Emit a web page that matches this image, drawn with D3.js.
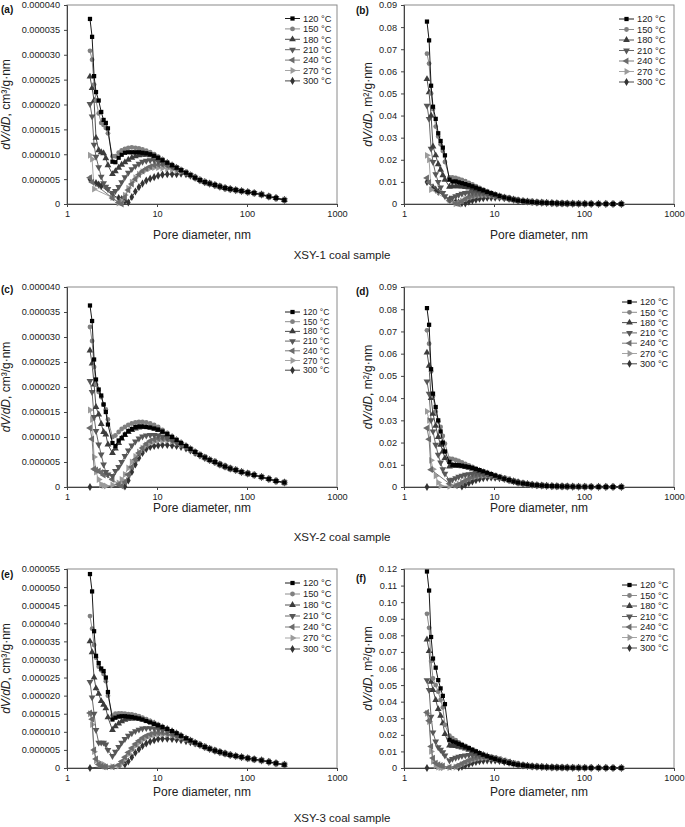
<!DOCTYPE html>
<html><head><meta charset="utf-8">
<script src="https://cdn.jsdelivr.net/npm/d3@7/dist/d3.min.js"></script>
<style>
body{margin:0;background:#fff}
text{font-family:"Liberation Sans",Arial,Helvetica,sans-serif}
</style>
</head><body>
<svg id="c" width="685" height="827"></svg>
<script>
// Pore diameter grid, nm
const diam = [1.8,1.9,2.0,2.1,2.25,2.4,2.55,2.7,2.85,3.2,3.45,3.75,4.05,4.4,4.8,5.25,5.75,6.3,6.9,7.6,8.4,9.3,10.3,11.5,13,14.7,16.5,18.5,21,23.5,26.5,30,34,38.5,44,50,57,65,75,87,102,120,145,175,210,260];
const seriesNames = ["120 °C","150 °C","180 °C","210 °C","240 °C","270 °C","300 °C"];
const xTicks = [1,10,100,1000];
const sampleLabels = ["XSY-1 coal sample","XSY-2 coal sample","XSY-3 coal sample"];
const n = null;

// (a) XSY-1 dV/dD, units of 1e-6 cm3/g·nm
const a120=[37.2,33.6,25.7,22.5,20.8,18.5,16.9,16.3,15.2, 8.5,8.4,9.3,9.9,10.3,10.4,10.4,10.4,10.4, 10.3,10.2,10.0,9.7,9.3,8.8,8.3,7.8, 7.3,6.8,6.3,5.8,5.3,4.8,4.4,4.1,3.8,3.5,3.2,3.0,2.8,2.6,2.4,2.2,1.9,1.5,1.2,0.8];
const a150=[30.8,29.0,24.0,20.8,18.2,16.3,15.9,15.3,14.2, 9.6,9.6,10.3,10.8,11.1,11.3,11.4,11.3,11.2, 11.0,10.7,10.4,10.0,9.5,9.0,8.4,7.9, 7.4,6.9,6.4,5.9,5.4,4.9,4.5,4.1,3.8,3.5,3.2,3.0,2.8,2.6,2.4,2.2,1.9,1.6,1.2,0.9];
const a180=[25.6,23.3,20.8,13.3,10.8,10.4,10.2,9.2,7.8, 6.0,6.6,7.3,7.9,8.4,8.9,9.3,9.6,9.8, 9.9,9.9,9.8,9.6,9.2,8.8,8.3,7.8, 7.3,6.8,6.3,5.8,5.3,4.8,4.4,4.1,3.8,3.5,3.2,3.0,2.8,2.6,2.4,2.2,1.9,1.5,1.2,0.8];
const a210=[20.1,17.6,11.9,9.5,7.4,5.5,4.2,3.5,3.0, 2.2,2.6,3.4,4.4,5.4,6.3,7.0,7.6,8.1, 8.5,8.7,8.8,8.8,8.6,8.3,8.0,7.6, 7.2,6.8,6.3,5.8,5.3,4.8,4.4,4.1,3.8,3.5,3.2,3.0,2.8,2.6,2.4,2.2,1.9,1.5,1.2,0.8];
const a240=[5.3,4.4,n,n,n,n,n,n,n, 1.2,n,0.3,0.0,1.4,2.8,4.0,5.0,5.9, 6.6,7.1,7.5,7.8,7.9,7.9,7.7,7.4, 7.1,6.7,6.3,5.8,5.3,4.8,4.4,4.1,3.8,3.5,3.2,3.0,2.8,2.6,2.4,2.2,1.9,1.5,1.2,0.8];
const a270=[9.8,9.0,3.0,n,n,n,n,n,n, 1.3,n,0.2,0.6,1.8,3.2,4.4,5.3,6.0, 6.5,6.9,7.2,7.3,7.3,7.2,7.1,6.9, 6.7,6.5,6.2,5.8,5.3,4.8,4.4,4.1,3.8,3.5,3.2,3.0,2.8,2.6,2.4,2.2,1.9,1.5,1.2,0.8];
const a300=[5.0,n,n,4.2,3.9,3.6,n,n,n, 1.8,n,1.2,1.0,0.6,0.3,1.4,2.5,3.4, 4.1,4.7,5.1,5.4,5.7,5.9,6.0,6.0, 6.0,6.1,6.0,5.7,5.3,4.8,4.4,4.1,3.8,3.5,3.2,3.0,2.8,2.6,2.4,2.2,1.9,1.5,1.2,0.8];

// (b) XSY-1 dS/dD, units of 1e-3 m2/g·nm
const b120=[82.5,74,53.5,44,38.5,32,28.5,25.5,22, 11,10.2,10.2,9.8,9.4,9.0,8.5,8.0,7.4, 6.8,6.2,5.5,4.9,4.3,3.6,3.0,2.5, 2.0,1.6,1.3,1.1,0.9,0.7,0.6,0.5,0.4,0.3,0.25,0.2,0.15,0.12,0.1,0.08,0.06,0.05,0.03,0.02];
const b150=[68,63.5,50,43,35,30.5,27,24,19, 12,12,11.8,11.4,10.9,10.3,9.6,8.9,8.1, 7.3,6.5,5.7,5.0,4.3,3.6,3.0,2.5, 2.0,1.6,1.3,1.1,0.9,0.7,0.6,0.5,0.4,0.3,0.25,0.2,0.15,0.12,0.1,0.08,0.06,0.05,0.03,0.02];
const b180=[56.5,50.5,40,26,22,18,15.5,13,11, 7.8,8.0,8.0,8.0,7.9,7.7,7.4,7.0,6.6, 6.2,5.7,5.2,4.6,4.1,3.5,3.0,2.5, 2.0,1.6,1.3,1.1,0.9,0.7,0.6,0.5,0.4,0.3,0.25,0.2,0.15,0.12,0.1,0.08,0.06,0.05,0.03,0.02];
const b210=[44.5,38.5,25,19,13.5,10,7.5,5,3.5, 2,2.8,3.5,4.1,4.6,5.0,5.2,5.3,5.3, 5.2,5.0,4.7,4.3,3.9,3.4,2.9,2.5, 2.0,1.6,1.3,1.1,0.9,0.7,0.6,0.5,0.4,0.3,0.25,0.2,0.15,0.12,0.1,0.08,0.06,0.05,0.03,0.02];
const b240=[11.8,9.8,n,n,n,n,n,n,n, 1.5,n,0.3,0.0,1.2,2.2,3.0,3.6,4.0, 4.2,4.3,4.3,4.1,3.8,3.4,2.9,2.5, 2.0,1.6,1.3,1.1,0.9,0.7,0.6,0.5,0.4,0.3,0.25,0.2,0.15,0.12,0.1,0.08,0.06,0.05,0.03,0.02];
const b270=[22,20,6.5,n,n,n,n,n,n, 1.5,n,0.1,0.6,1.4,2.2,2.9,3.4,3.7, 3.9,4.0,4.0,3.9,3.6,3.3,2.9,2.5, 2.0,1.6,1.3,1.1,0.9,0.7,0.6,0.5,0.4,0.3,0.25,0.2,0.15,0.12,0.1,0.08,0.06,0.05,0.03,0.02];
const b300=[10,n,n,7.5,6.5,5.5,n,n,n, 2,n,1.0,0.6,0.4,0.3,1.0,1.6,2.0, 2.4,2.6,2.8,2.9,2.9,2.8,2.6,2.4, 2.0,1.6,1.3,1.1,0.9,0.7,0.6,0.5,0.4,0.3,0.25,0.2,0.15,0.12,0.1,0.08,0.06,0.05,0.03,0.02];

// (c) XSY-2 dV/dD, units of 1e-6
const c120=[36.3,33.2,25.5,21.5,19.5,18.3,16.5,15.0,12.5, 8.8,8.2,9.3,9.8,10.5,11.2,11.6,12.0,12.1, 12.1,12.0,11.9,11.7,11.5,11.1,10.6,10.0, 9.4,8.8,8.2,7.6,7.0,6.4,5.9,5.4,5.0,4.5,4.1,3.7,3.4,3.0,2.7,2.4,2.0,1.6,1.2,0.9];
const c150=[32.0,29.2,24.0,20.5,19.0,18.0,16.5,15.5,13.5, 10.0,10.3,11.0,11.6,12.0,12.4,12.7,12.9,13.0, 13.0,12.9,12.7,12.4,12.0,11.4,10.8,10.1, 9.5,8.9,8.2,7.6,7.0,6.4,5.9,5.4,5.0,4.5,4.1,3.7,3.4,3.0,2.7,2.4,2.0,1.6,1.2,0.9];
const c180=[27.3,24.7,20.5,16.0,14.5,12.6,11.0,10.5,8.5, 6.8,7.7,8.8,9.7,10.4,11.0,11.4,11.7,11.9, 12.0,12.0,11.9,11.7,11.4,11.0,10.5,10.0, 9.4,8.8,8.2,7.6,7.0,6.4,5.9,5.4,5.0,4.5,4.1,3.7,3.4,3.0,2.7,2.4,2.0,1.6,1.2,0.9];
const c210=[21.2,19.0,14.0,11.2,8.5,6.5,4.5,3.0,2.5, 2.2,3.2,4.0,5.0,6.2,7.3,8.3,9.1,9.7, 10.1,10.3,10.4,10.4,10.3,10.1,9.8,9.5, 9.0,8.6,8.1,7.5,7.0,6.4,5.9,5.4,5.0,4.5,4.1,3.7,3.4,3.0,2.7,2.4,2.0,1.6,1.2,0.9];
const c240=[11.8,9.6,3.6,3.4,3.2,2.9,2.4,n,n, 1.5,n,0.5,0.2,1.0,2.5,4.0,5.5,6.8, 7.8,8.6,9.2,9.5,9.7,9.7,9.6,9.3, 8.9,8.5,8.0,7.5,6.9,6.4,5.9,5.4,5.0,4.5,4.1,3.7,3.4,3.0,2.7,2.4,2.0,1.6,1.2,0.9];
const c270=[15.4,13.5,6.0,3.0,1.5,0.5,0.3,0.2,n, 0.4,n,0.8,1.5,2.5,3.8,5.0,6.1,7.0, 7.8,8.4,8.8,9.1,9.3,9.3,9.3,9.1, 8.8,8.4,8.0,7.5,6.9,6.4,5.9,5.4,5.0,4.5,4.1,3.7,3.4,3.0,2.7,2.4,2.0,1.6,1.2,0.9];
const c300=[0,n,n,n,n,n,n,n,n, n,n,n,n,0.1,1.3,3.0,4.5,5.8, 6.8,7.6,8.0,8.2,8.3,8.4,8.4,8.3, 8.2,8.0,7.7,7.3,6.8,6.3,5.8,5.4,5.0,4.5,4.1,3.7,3.4,3.0,2.7,2.4,2.0,1.6,1.2,0.9];

// (d) XSY-2 dS/dD, units of 1e-3
const d120=[80.5,73,53,42,36,30,25,20,16, 11.3,10.0,9.9,9.8,9.6,9.3,9.0,8.6,8.1, 7.6,7.0,6.4,5.8,5.1,4.4,3.7,3.1, 2.5,2.0,1.6,1.3,1.0,0.8,0.65,0.5,0.4,0.33,0.27,0.22,0.18,0.14,0.11,0.09,0.07,0.05,0.04,0.03];
const d150=[70.5,64.5,52,41,34,29.5,27,23,19.5, 12.8,12.6,12.2,11.7,11.1,10.4,9.7,9.0,8.3, 7.6,6.9,6.2,5.6,4.9,4.2,3.6,3.0, 2.5,2.0,1.6,1.3,1.0,0.8,0.65,0.5,0.4,0.33,0.27,0.22,0.18,0.14,0.11,0.09,0.07,0.05,0.04,0.03];
const d180=[60.5,54.5,40,33,27.5,22.5,19,16,13, 9.2,9.5,9.6,9.5,9.3,9.0,8.6,8.2,7.7, 7.2,6.7,6.1,5.5,4.9,4.2,3.6,3.0, 2.5,2.0,1.6,1.3,1.0,0.8,0.65,0.5,0.4,0.33,0.27,0.22,0.18,0.14,0.11,0.09,0.07,0.05,0.04,0.03];
const d210=[47.5,42,30,25,19,14.5,11,8,6, 3,3.3,4.0,4.6,5.1,5.5,5.8,6.0,6.1, 6.1,6.0,5.8,5.4,5.0,4.4,3.8,3.2, 2.5,2.0,1.6,1.3,1.0,0.8,0.65,0.5,0.4,0.33,0.27,0.22,0.18,0.14,0.11,0.09,0.07,0.05,0.04,0.03];
const d240=[26.5,21.5,7.8,n,n,n,n,n,n, 1.5,n,0.5,1.0,1.8,2.7,3.5,4.3,4.8, 5.2,5.4,5.4,5.3,5.0,4.5,3.9,3.3, 2.6,2.0,1.6,1.3,1.0,0.8,0.65,0.5,0.4,0.33,0.27,0.22,0.18,0.14,0.11,0.09,0.07,0.05,0.04,0.03];
const d270=[34,30,12,8,5,2,0.5,n,n, 0.3,n,0.8,1.4,2.2,3.0,3.7,4.3,4.7, 5.0,5.1,5.1,5.0,4.8,4.4,3.8,3.2, 2.6,2.0,1.6,1.3,1.0,0.8,0.65,0.5,0.4,0.33,0.27,0.22,0.18,0.14,0.11,0.09,0.07,0.05,0.04,0.03];
const d300=[0,n,n,n,n,n,n,n,n, n,n,n,n,0.2,1.0,1.8,2.5,3.1, 3.6,4.0,4.2,4.3,4.2,4.0,3.6,3.1, 2.6,2.1,1.6,1.3,1.0,0.8,0.65,0.5,0.4,0.33,0.27,0.22,0.18,0.14,0.11,0.09,0.07,0.05,0.04,0.03];

// (e) XSY-3 dV/dD, units of 1e-6
const e120=[53.6,48.8,37.8,31.0,29.0,27.5,26.8,25.0,21.0, 13.4,13.9,14.2,14.3,14.3,14.2,14.1,13.9,13.7, 13.4,13.0,12.6,12.2,11.8,11.3,10.8,10.2, 9.6,8.9,8.2,7.6,7.0,6.4,5.8,5.3,4.8,4.4,4.0,3.6,3.3,3.0,2.7,2.4,2.1,1.7,1.3,0.9];
const e150=[42,38.5,34,30.5,28,27,26,24,20, 14.5,15.0,15.1,15.1,15.0,14.9,14.8,14.6,14.3, 13.9,13.5,13.0,12.5,12.0,11.4,10.8,10.2, 9.6,8.9,8.2,7.6,7.0,6.4,5.8,5.3,4.8,4.4,4.0,3.6,3.3,3.0,2.7,2.4,2.1,1.7,1.3,0.9];
const e180=[35,32,25,22,20.5,18.5,17.5,16.5,14, 10.5,11.5,12.3,12.9,13.3,13.6,13.7,13.7,13.6, 13.4,13.1,12.7,12.3,11.8,11.3,10.8,10.2, 9.6,8.9,8.2,7.6,7.0,6.4,5.8,5.3,4.8,4.4,4.0,3.6,3.3,3.0,2.7,2.4,2.1,1.7,1.3,0.9];
const e210=[23.8,19.5,15,10.5,7.0,7.0,7.0,6.5,5.0, 3.3,4.5,5.8,7.0,8.0,8.9,9.6,10.2,10.6, 10.9,11.0,11.0,10.9,10.8,10.5,10.2,9.8, 9.3,8.8,8.2,7.6,7.0,6.4,5.8,5.3,4.8,4.4,4.0,3.6,3.3,3.0,2.7,2.4,2.1,1.7,1.3,0.9];
const e240=[15.2,13.5,5.0,2.5,1.0,0.5,0.3,0.3,n, 0.3,n,0.8,1.8,3.0,4.3,5.5,6.6,7.5, 8.3,8.9,9.3,9.6,9.7,9.7,9.5,9.2, 8.8,8.5,8.0,7.5,6.9,6.4,5.8,5.3,4.8,4.4,4.0,3.6,3.3,3.0,2.7,2.4,2.1,1.7,1.3,0.9];
const e270=[15.0,12.0,4.5,2.0,1.5,1.2,1.0,0.5,n, 0.4,n,0.5,1.3,2.5,3.8,5.0,6.1,7.0, 7.8,8.4,8.9,9.2,9.3,9.3,9.2,9.0, 8.7,8.4,7.9,7.4,6.9,6.4,5.8,5.3,4.8,4.4,4.0,3.6,3.3,3.0,2.7,2.4,2.1,1.7,1.3,0.9];
const e300=[0,n,n,n,n,n,n,n,n, n,n,n,n,1.0,1.8,3.0,4.2,5.2, 6.1,6.8,7.3,7.7,8.0,8.1,8.1,8.0, 7.9,7.7,7.4,7.1,6.8,6.4,5.8,5.3,4.8,4.4,4.0,3.6,3.3,3.0,2.7,2.4,2.1,1.7,1.3,0.9];

// (f) XSY-3 dS/dD, units of 1e-3
const f120=[118.5,107,79,66,60.5,53,48,43.5,38.5, 17.0,16.0,15.4,14.6,13.8,12.9,12.0,11.0,10.0, 9.0,8.0,7.1,6.2,5.4,4.6,3.8,3.1, 2.5,2.0,1.6,1.3,1.0,0.8,0.65,0.5,0.4,0.33,0.27,0.22,0.18,0.14,0.11,0.09,0.07,0.05,0.04,0.03];
const f150=[93,84.5,64.5,54,50,46,41,36.5,26, 19.5,18.0,16.8,15.5,14.4,13.3,12.2,11.1,10.0, 9.0,8.0,7.1,6.2,5.4,4.6,3.8,3.1, 2.5,2.0,1.6,1.3,1.0,0.8,0.65,0.5,0.4,0.33,0.27,0.22,0.18,0.14,0.11,0.09,0.07,0.05,0.04,0.03];
const f180=[77.5,70.5,52,47,41,35.5,31.5,27,20.5, 13.5,13.4,13.2,12.8,12.3,11.7,11.0,10.3,9.5, 8.7,7.9,7.1,6.3,5.5,4.7,3.9,3.2, 2.5,2.0,1.6,1.3,1.0,0.8,0.65,0.5,0.4,0.33,0.27,0.22,0.18,0.14,0.11,0.09,0.07,0.05,0.04,0.03];
const f210=[53,47,31,21.5,16,12.5,11,9.5,7.5, 4.5,5.5,6.2,6.8,7.3,7.6,7.8,7.9,7.9, 7.7,7.4,7.0,6.5,5.9,5.2,4.4,3.6, 2.6,2.0,1.6,1.3,1.0,0.8,0.65,0.5,0.4,0.33,0.27,0.22,0.18,0.14,0.11,0.09,0.07,0.05,0.04,0.03];
const f240=[33.5,28.5,13,6,3,2,1.5,1.2,n, 0.5,n,0.8,1.6,2.6,3.6,4.5,5.3,5.9, 6.3,6.5,6.5,6.3,5.9,5.3,4.5,3.7, 2.7,2.1,1.6,1.3,1.0,0.8,0.65,0.5,0.4,0.33,0.27,0.22,0.18,0.14,0.11,0.09,0.07,0.05,0.04,0.03];
const f270=[33,28,10,4,1.5,0.5,0.2,0.1,n, 0.2,n,0.6,1.3,2.2,3.1,4.0,4.8,5.4, 5.9,6.1,6.2,6.0,5.7,5.2,4.4,3.6, 2.7,2.1,1.6,1.3,1.0,0.8,0.65,0.5,0.4,0.33,0.27,0.22,0.18,0.14,0.11,0.09,0.07,0.05,0.04,0.03];
const f300=[0,n,n,n,n,n,n,n,n, n,n,n,0.3,0.8,1.5,2.3,3.0,3.6, 4.1,4.4,4.6,4.6,4.5,4.2,3.7,3.2, 2.6,2.1,1.6,1.3,1.0,0.8,0.65,0.5,0.4,0.33,0.27,0.22,0.18,0.14,0.11,0.09,0.07,0.05,0.04,0.03];

const colors = ["#000000","#808080","#3c3c3c","#575757","#6b6b6b","#9b9b9b","#333333"];
const sym = [
  {t:d3.symbolSquare, s:18, r:0},
  {t:d3.symbolCircle, s:18, r:0},
  {t:d3.symbolTriangle, s:20, r:0},
  {t:d3.symbolTriangle, s:20, r:180},
  {t:d3.symbolTriangle, s:20, r:-90},
  {t:d3.symbolTriangle, s:20, r:90},
  {t:d3.symbolDiamond, s:19, r:0}
];

const volFmt = d => d === 0 ? "0" : (d*1e-6).toFixed(6);
const areaFmt = d => d === 0 ? "0" : (d*1e-3).toFixed(2);

const panels = [
 {tag:"(a)", data:[a120,a150,a180,a210,a240,a270,a300], ymax:40, step:5, fmt:volFmt, unit:", cm³/g·nm",
  x0:67, y0:5, y1:204, tagX:1, tagY:13, ylabX:10, legX:285, legY:18.5, legDy:10.4, legFs:9.3, xtY:239},
 {tag:"(b)", data:[b120,b150,b180,b210,b240,b270,b300], ymax:90, step:10, fmt:areaFmt, unit:", m²/g·nm",
  x0:404, y0:5, y1:204, tagX:356, tagY:14, ylabX:372, legX:619, legY:19, legDy:10.5, legFs:9.3, xtY:239},
 {tag:"(c)", data:[c120,c150,c180,c210,c240,c270,c300], ymax:40, step:5, fmt:volFmt, unit:", cm³/g·nm",
  x0:67, y0:287, y1:487, tagX:1, tagY:293, ylabX:10, legX:285, legY:312, legDy:9.7, legFs:8.6, xtY:512},
 {tag:"(d)", data:[d120,d150,d180,d210,d240,d270,d300], ymax:90, step:10, fmt:areaFmt, unit:", m²/g·nm",
  x0:404, y0:287, y1:487, tagX:356, tagY:295, ylabX:372, legX:622, legY:302, legDy:10.3, legFs:9.2, xtY:512},
 {tag:"(e)", data:[e120,e150,e180,e210,e240,e270,e300], ymax:55, step:5, fmt:volFmt, unit:", cm³/g·nm",
  x0:67, y0:569, y1:768, tagX:1, tagY:578, ylabX:10, legX:285, legY:583, legDy:11, legFs:9.3, xtY:796},
 {tag:"(f)", data:[f120,f150,f180,f210,f240,f270,f300], ymax:120, step:10, fmt:areaFmt, unit:", m²/g·nm",
  x0:404, y0:569, y1:768, tagX:356, tagY:582, ylabX:372, legX:622, legY:585, legDy:10.5, legFs:9.3, xtY:796}
];

const svg = d3.select("#c");
const W = 270;

panels.forEach(p => {
  const x = d3.scaleLog().domain([1,1000]).range([p.x0, p.x0+W]);
  const y = d3.scaleLinear().domain([0,p.ymax]).range([p.y1, p.y0]);
  const g = svg.append("g");

  g.append("rect").attr("x",p.x0).attr("y",p.y0).attr("width",W).attr("height",p.y1-p.y0)
    .attr("fill","none").attr("stroke","#8a8a8a").attr("stroke-width",1);

  const xa = g.append("g").attr("transform",`translate(0,${p.y1})`)
    .call(d3.axisBottom(x).tickValues(xTicks).tickFormat(d3.format("d")).tickSize(3).tickPadding(3));
  const ya = g.append("g").attr("transform",`translate(${p.x0},0)`)
    .call(d3.axisLeft(y).tickValues(d3.range(0,p.ymax+p.step/2,p.step)).tickFormat(p.fmt).tickSize(3).tickPadding(4));
  [xa,ya].forEach(a=>{
    a.selectAll("text").attr("font-size",9.2).attr("fill","#222").attr("font-family","Liberation Sans, Arial, sans-serif");
    a.selectAll("line").attr("stroke","#444");
    a.select(".domain").attr("stroke","#444");
  });

  g.append("text").attr("x",p.x0+W/2).attr("y",p.xtY).attr("text-anchor","middle")
    .attr("font-size",12).attr("fill","#222").text("Pore diameter, nm");
  const yt = g.append("text").attr("transform",`translate(${p.ylabX},${(p.y0+p.y1)/2}) rotate(-90)`)
    .attr("text-anchor","middle").attr("font-size",12).attr("fill","#222");
  yt.append("tspan").attr("font-style","italic").text("dV/dD");
  yt.append("tspan").text(p.unit);

  g.append("text").attr("x",p.tagX).attr("y",p.tagY).attr("font-size",10).attr("font-weight","bold")
    .attr("fill","#111").text(p.tag);

  const line = d3.line().x(d=>x(d[0])).y(d=>y(d[1]));
  for (let i = p.data.length-1; i >= 0; i--) {
    const pts = diam.map((d,j)=>[d,p.data[i][j]]).filter(v=>v[1]!==null);
    g.append("path").datum(pts).attr("d",line).attr("fill","none")
      .attr("stroke",colors[i]).attr("stroke-width",0.9);
    const s = d3.symbol().type(sym[i].t).size(sym[i].s);
    g.selectAll(null).data(pts).enter().append("path")
      .attr("d",s).attr("fill",colors[i])
      .attr("transform",d=>`translate(${x(d[0])},${y(d[1])}) rotate(${sym[i].r})`);
  }

  seriesNames.forEach((name,i)=>{
    const ly = p.legY + i*p.legDy;
    g.append("line").attr("x1",p.legX).attr("x2",p.legX+15).attr("y1",ly).attr("y2",ly)
      .attr("stroke",colors[i]).attr("stroke-width",0.9);
    g.append("path").attr("d",d3.symbol().type(sym[i].t).size(sym[i].s)())
      .attr("fill",colors[i]).attr("transform",`translate(${p.legX+7.5},${ly}) rotate(${sym[i].r})`);
    g.append("text").attr("x",p.legX+18).attr("y",ly+p.legFs*0.35).attr("font-size",p.legFs).attr("fill","#222").text(name);
  });
});

const sampleY = [259,541,822];
sampleLabels.forEach((t,i)=>{
  svg.append("text").attr("x",342).attr("y",sampleY[i]).attr("text-anchor","middle")
    .attr("font-size",11.5).attr("fill","#222").text(t);
});
</script>
</body></html>
